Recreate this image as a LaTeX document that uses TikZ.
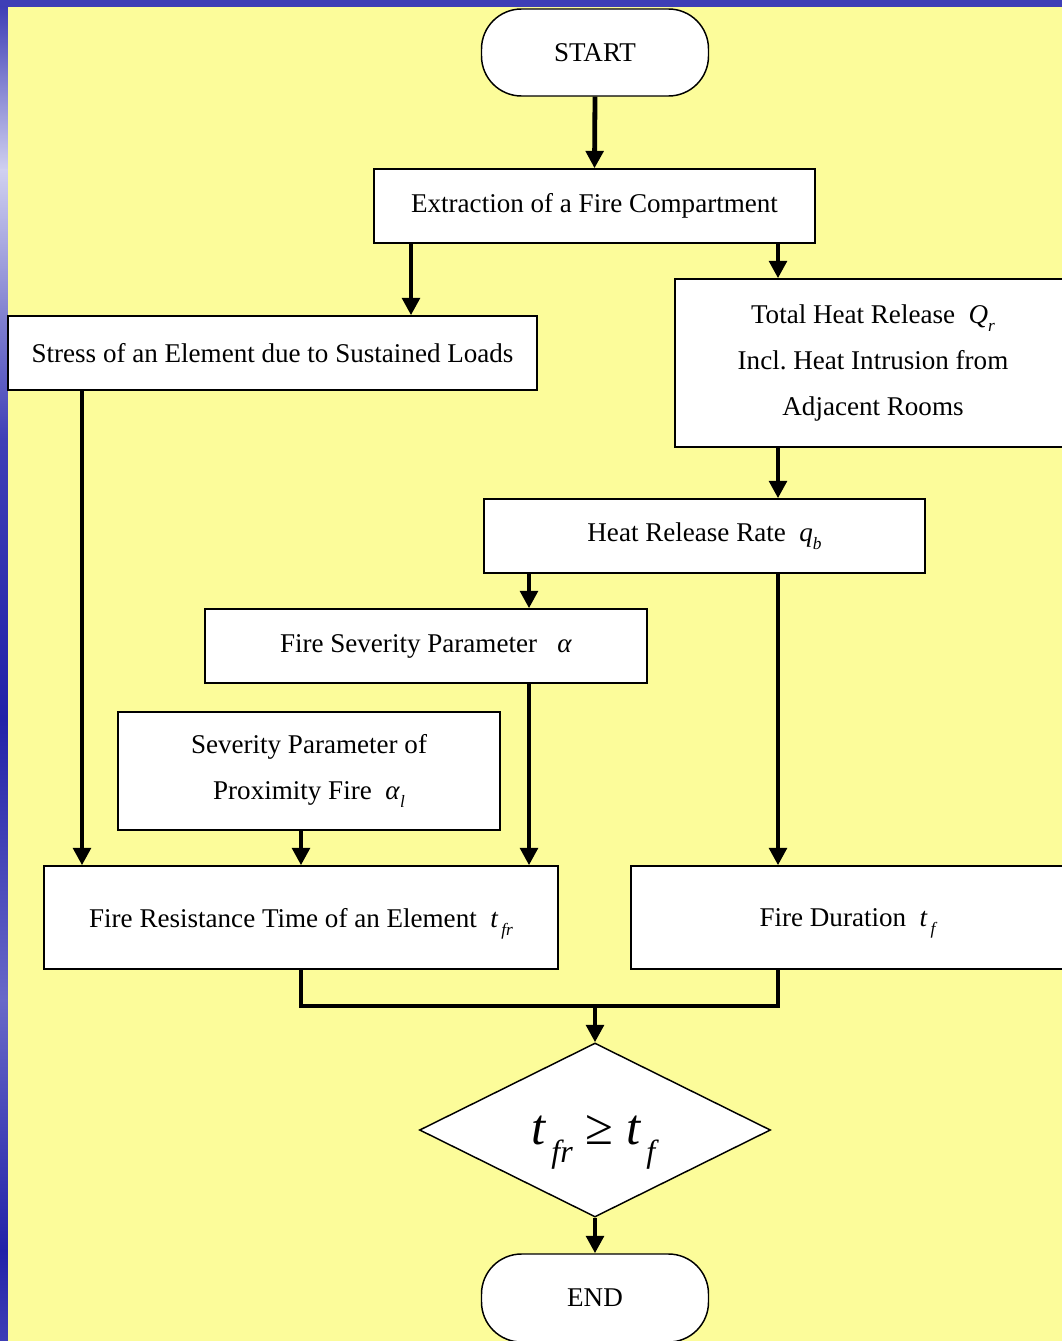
\documentclass[tikz,border=0pt]{standalone}
\usepackage{fontspec}
\setmainfont{Liberation Serif}
\usetikzlibrary{arrows.meta,shapes.geometric}
\definecolor{fond}{RGB}{252,252,154}
\definecolor{cadre}{RGB}{62,62,182}
\definecolor{cadreclair}{RGB}{208,208,240}
\definecolor{cadremoyen}{RGB}{104,104,200}
\definecolor{cadrefonce}{RGB}{34,34,168}
% symbole avec indice
\newcommand{\Grandeur}[2]{\textit{#1}\raisebox{-0.3em}{\fontsize{13}{13}\selectfont\textit{#2}}}
\frenchspacing

\begin{document}
\begin{tikzpicture}[x=0.75pt,y=-0.75pt]
			% Styles (MODIFIABLES)
			\tikzstyle{fleche}=[-{Triangle[length=13pt,width=13pt]},line width=3.6pt]
			\tikzstyle{trait}=[line width=3.6pt,line join=miter]
			\tikzstyle{boite}=[draw,fill=white,line width=1.1pt,inner sep=0pt,align=center,font=\fontsize{20.3}{34.5}\selectfont]
			\tikzstyle{terminal}=[boite,rounded corners=30pt]
			\tikzstyle{test}=[boite,shape=diamond,shape aspect=2,text depth=0pt,font=\fontsize{38}{40}\selectfont]
			% Dimensions (MODIFIABLES)
			\def\Px{0.75pt}
			\def\AxeA{82}
			\def\AxeB{301}
			\def\AxeC{411}
			\def\AxeD{529}
			\def\AxeE{595}
			\def\AxeF{778}
			% Fond
			\useasboundingbox (0,0) rectangle (1062,1341);
			\fill[cadre] (0,0) rectangle (1062,7);
			\shade[top color=cadre,bottom color=cadreclair] (0,7) rectangle (8,170);
			\shade[top color=cadreclair,bottom color=cadre] (0,170) rectangle (8,440);
			\shade[top color=cadre,bottom color=cadrefonce] (0,440) rectangle (8,720);
			\shade[top color=cadrefonce,bottom color=cadremoyen] (0,720) rectangle (8,1000);
			\shade[top color=cadremoyen,bottom color=cadrefonce] (0,1000) rectangle (8,1250);
			\shade[top color=cadrefonce,bottom color=cadre] (0,1250) rectangle (8,1341);
			\fill[fond] (8,7) rectangle (1062,1341);
			% Noeuds
			\node[terminal,minimum width=227*\Px,minimum height=87*\Px] (debut) at (\AxeE,52.5) {START};
			\node[boite,minimum width=441*\Px,minimum height=74*\Px] (extraction) at (594.5,206) {Extraction of a Fire Compartment};
			\node[boite,minimum width=529*\Px,minimum height=74*\Px] (contrainte) at (272.5,353) {Stress of an Element due to Sustained Loads};
			\node[boite,minimum width=396*\Px,minimum height=168*\Px] (chaleur) at (873,363) {Total Heat Release\ \ \Grandeur{Q}{r}\\Incl. Heat Intrusion from\\Adjacent Rooms};
			\node[boite,minimum width=441*\Px,minimum height=74*\Px] (debit) at (704.5,536) {Heat Release Rate\ \ \Grandeur{q}{b}};
			\node[boite,minimum width=442*\Px,minimum height=74*\Px] (severite) at (426,646) {Fire Severity Parameter\ \ \ \textit{α}};
			\node[boite,minimum width=382*\Px,minimum height=118*\Px] (proximite) at (309,771) {Severity Parameter of\\Proximity Fire\ \ \Grandeur{α}{l}};
			\node[boite,text depth=0pt,minimum width=514*\Px,minimum height=103*\Px] (resistance) at (301,917.5) {Fire Resistance Time of an Element\ \ \Grandeur{t}{\,fr}};
			\node[boite,text depth=0pt,minimum width=435*\Px,minimum height=103*\Px] (duree) at (848.5,917.5) {Fire Duration\ \ \Grandeur{t}{\,f}};
			\node[test,minimum width=351*\Px,minimum height=174*\Px] (critere) at (\AxeE,1130) {\textit{t}\raisebox{-0.35em}{\fontsize{24}{24}\selectfont\textit{\,fr}}\ ≥\ \textit{t}\raisebox{-0.35em}{\fontsize{24}{24}\selectfont\textit{\,f}}};
			\node[terminal,minimum width=227*\Px,minimum height=88*\Px] (fin) at (\AxeE,1298) {END};
			\coordinate (jonction) at (\AxeE,1006);
			% Arcs
			\draw[fleche] (debut.south) -- (extraction.north);
			\draw[fleche] (extraction.south -| \AxeC,0) -- (contrainte.north -| \AxeC,0);
			\draw[fleche] (extraction.south -| \AxeF,0) -- (chaleur.north -| \AxeF,0);
			\draw[fleche] (chaleur.south -| \AxeF,0) -- (debit.north -| \AxeF,0);
			\draw[fleche] (debit.south -| \AxeD,0) -- (severite.north -| \AxeD,0);
			\draw[fleche] (debit.south -| \AxeF,0) -- (duree.north -| \AxeF,0);
			\draw[fleche] (severite.south -| \AxeD,0) -- (resistance.north -| \AxeD,0);
			\draw[fleche] (proximite.south -| \AxeB,0) -- (resistance.north -| \AxeB,0);
			\draw[fleche] (contrainte.south -| \AxeA,0) -- (resistance.north -| \AxeA,0);
			\draw[trait] (resistance.south -| \AxeB,0) |- (jonction) -| (duree.south -| \AxeF,0);
			\draw[fleche] (jonction) -- (critere.north);
			\draw[fleche] (critere.south) -- (fin.north);
\end{tikzpicture}
\end{document}
